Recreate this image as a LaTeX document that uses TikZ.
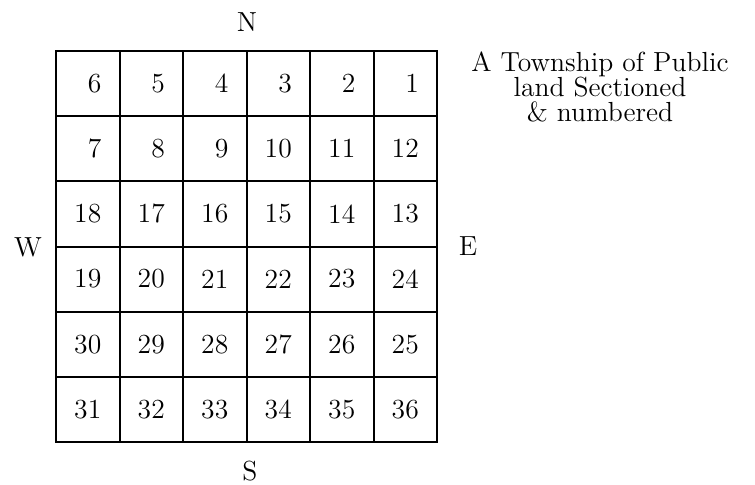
\documentclass[tikz,border=0pt]{standalone}
\usetikzlibrary{positioning}

\begin{document}
\begin{tikzpicture}[x=0.5pt,y=-0.5pt,
    font=\fontsize{13.8}{12.5}\selectfont,
    sectline/.style={line width=1pt,line cap=rect},
    num/.style={inner sep=0pt},
    compass/.style={inner sep=0pt}]

% Frame
\useasboundingbox (0,0) rectangle (755,484);

% Section lines
\foreach \i in {0,...,6} {
  \draw[sectline] ({56+63.5*\i},51) -- ({56+63.5*\i},442);
  \draw[sectline] (56,{51+65.17*\i}) -- (437,{51+65.17*\i});
}

% Section numbers
\foreach \r in {0,...,5}
  \foreach \c in {0,...,5} {
    \pgfmathtruncatemacro{\n}{mod(\r,2)==0 ? 6*\r+6-\c : 6*\r+1+\c}
    \node[num] (s\n) at ({56+63.5*(\c+0.5)},{51+65.17*(\r+0.5)})
      {\ifnum\n<10 \phantom{0}\fi\n};
  }

% Compass points
\node[compass] (north) at (247,22) {N};
\node[compass] (south) at (250,471) {S};
\node[compass] (west) at (28,247) {W};
\node[compass] (east) at (468,246) {E};

% Caption
\node[inner sep=0pt,anchor=north,align=center] (caption) at (600,51)
  {A Township of Public\\land Sectioned\\\& numbered};

\end{tikzpicture}
\end{document}
